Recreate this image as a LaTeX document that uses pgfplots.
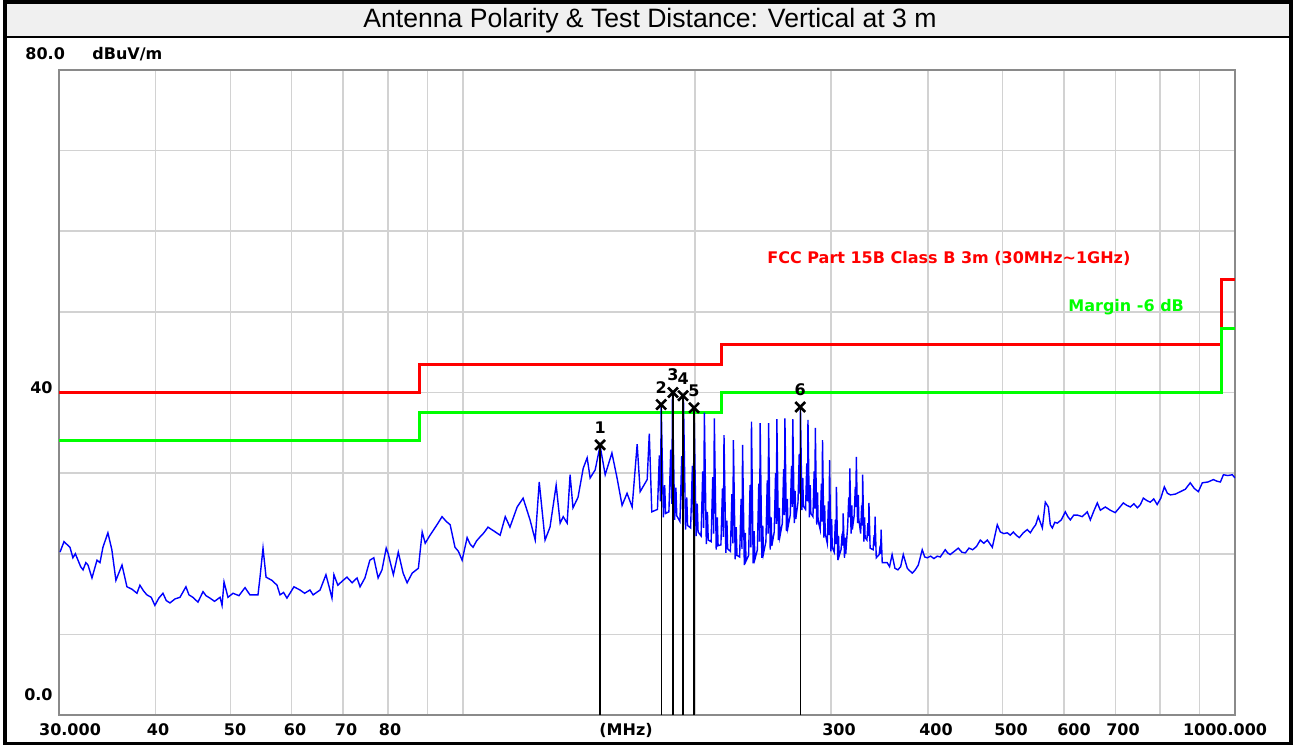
\documentclass[border=0pt]{standalone}
\usepackage{pgfplots}
\pgfplotsset{compat=1.18}
\usepackage{fontspec}
\setmainfont{Liberation Sans}
\newfontfamily\lblfont{DejaVu Sans}
\definecolor{gridgray}{HTML}{D2D2D2}
\definecolor{framegray}{HTML}{8A8A8A}
\definecolor{bandgray}{HTML}{F0F0F0}
\definecolor{limred}{HTML}{FF0000}
\definecolor{limgreen}{HTML}{00FF00}
\definecolor{trace}{HTML}{0000FF}
\newcommand{\lb}{\lblfont\bfseries\fontsize{8}{9}\selectfont}
\begin{document}
\begin{tikzpicture}
\path[use as bounding box] (0,0) rectangle (648pt,372.5pt);
\fill[bandgray] (2.5pt,354pt) rectangle (645.5pt,371pt);
\draw[black,line width=1pt] (2.5pt,354pt) -- (645.5pt,354pt);
\draw[black,line width=1.6pt] (2.5pt,0.8pt) rectangle (645.5pt,371.5pt);
\node[font=\fontsize{13.3}{15}\selectfont] at (325pt,362.3pt) {Antenna Polarity \& Test Distance: Vertical at 3 m};
\begin{axis}[
  at={(29.5pt,15pt)}, anchor=south west,
  width=588pt, height=322.5pt, scale only axis,
  xmode=log, xmin=30, xmax=1000, ymin=0, ymax=80,
  xtick={100,1000}, minor xtick={40,50,60,70,80,90,200,300,400,500,600,700,800,900},
  ytick={0,10,...,80},
  xticklabels={}, yticklabels={},
  xmajorgrids, xminorgrids, ymajorgrids,
  major grid style={draw=gridgray, line width=0.8pt},
  minor grid style={draw=gridgray, line width=0.8pt},
  major tick length=0pt, minor tick length=0pt,
  axis line style={draw=framegray, line width=1.1pt},
  clip=true,
]
\addplot[limred, line width=1.5pt, const plot] coordinates {(30,40)(88,43.5)(216,46)(960,54)(1000,54)};
\addplot[limgreen, line width=1.5pt, const plot] coordinates {(30,34)(88,37.5)(216,40)(960,48)(1000,48)};
\addplot[trace, line width=0.7pt] coordinates {
(30.09,20.2)(30.45,21.5)(31.0,20.8)(31.27,19.5)(31.5,20.0)(31.75,19.2)(32.0,18.4)(32.23,18.0)(32.5,18.9)(32.71,18.6)(33.1,17.0)(33.6,19.2)(33.9,18.9)(34.2,20.8)(34.71,22.6)(35.12,20.5)(35.55,16.7)(36.2,18.6)(36.74,15.9)(37.3,15.6)(37.85,15.1)(38.19,16.1)(38.6,15.4)(38.99,14.9)(39.5,14.6)(39.93,13.6)(40.4,14.5)(40.9,15.1)(41.3,14.2)(41.76,13.9)(42.4,14.4)(43.03,14.6)(43.8,15.9)(44.2,14.9)(44.71,14.6)(45.4,14.0)(46.09,15.3)(46.5,14.8)(47.05,14.5)(47.7,14.1)(48.49,14.6)(48.78,13.6)(49.07,16.5)(49.65,14.6)(50.4,15.1)(51.3,14.8)(52.24,15.8)(53.01,14.9)(54.3,14.9)(54.63,17.1)(55.12,20.7)(55.62,17.1)(56.6,16.7)(57.47,16.1)(57.99,14.9)(58.6,15.2)(59.2,14.5)(60.45,15.9)(61.56,15.5)(62.4,15.1)(63.4,15.5)(64.0,14.9)(65.34,15.5)(66.5,17.4)(67.3,15.5)(67.7,14.5)(68.1,17.4)(68.9,16.1)(69.98,16.7)(70.8,17.1)(71.9,16.4)(72.96,17.0)(73.62,15.9)(74.7,17.0)(75.8,19.2)(76.7,19.5)(77.7,17.0)(78.6,18.0)(79.6,20.7)(80.0,20.1)(81.3,17.4)(82.5,20.2)(83.7,17.6)(84.7,16.4)(86.0,17.6)(87.6,18.2)(88.6,22.7)(89.4,21.3)(90.7,22.3)(92.6,23.6)
(94.0,24.6)(95.2,24.0)(96.3,23.6)(97.7,20.8)(98.7,20.3)(99.8,19.2)(101.3,22.0)(102.2,21.2)(103.1,20.8)(104.2,21.6)(105.31,22.1)(106.5,22.6)(107.8,23.3)(109.8,22.8)(111.78,22.3)(113.5,24.6)(115.1,23.3)(117.6,25.8)(119.7,26.9)(122.2,24.2)(124.1,21.7)(125.6,28.9)(127.8,21.7)(129.7,23.3)(132.1,28.5)(133.68,23.8)(134.9,24.6)(136.5,23.8)(137.7,29.8)(138.9,25.7)(141.0,27.0)(143.2,30.6)(144.9,31.9)(146.2,29.4)(148.4,30.4)(150.6,33.4)(152.9,29.8)(156.0,32.5)(158.4,29.4)(160.8,26.0)(163.2,27.5)(165.7,25.8)(168.2,33.6)(169.71,27.7)(173.3,29.2)(174.4,34.9)(175.7,25.2)
(178.7,25.5)(179.7,32.2)(180.3,26.5)(180.7,38.5)(181.9,24.5)(182.6,28.5)(183.1,25.0)
(184.9,25.2)(185.9,32.9)(186.5,26.2)(186.9,40.0)(188.1,24.2)(188.8,28.2)(189.3,24.7)
(191.1,24.0)(192.1,32.1)(192.7,25.0)(193.1,39.6)(194.3,23.0)(195.0,27.0)(195.5,23.5)
(197.3,23.2)(198.3,30.9)(198.9,24.2)(199.3,38.1)(200.5,22.2)(201.2,26.2)(201.7,22.7)
(203.5,22.2)(204.5,30.2)(205.1,23.2)(205.5,37.5)(206.7,21.2)(207.4,25.2)(207.9,21.7)
(209.7,21.5)(210.7,29.5)(211.3,22.5)(211.7,36.8)(212.9,20.5)(213.6,24.5)(214.1,21.0)
(215.9,21.1)(216.9,28.1)(217.5,22.1)(217.9,34.7)(219.1,20.1)(219.8,24.1)(220.3,20.6)
(222.1,20.3)(223.1,27.4)(223.7,21.3)(224.1,34.1)(225.3,19.3)(226.0,23.3)(226.5,19.8)
(228.3,19.6)(229.3,26.8)(229.9,20.6)(230.3,33.5)(231.5,18.6)(232.2,22.6)(232.7,19.1)
(234.5,19.8)(235.5,28.5)(236.1,20.8)(236.5,36.4)(237.7,18.8)(238.4,22.8)(238.9,19.3)
(240.7,20.5)(241.7,28.7)(242.3,21.5)(242.7,36.2)(243.9,19.5)(244.6,23.5)(245.1,20.0)
(246.9,21.5)(247.9,29.1)(248.5,22.5)(248.9,36.2)(250.1,20.5)(250.8,24.5)(251.3,21.0)
(253.1,22.7)(254.1,30.0)(254.7,23.7)(255.1,36.7)(256.3,21.7)(257.0,25.7)(257.5,22.2)
(259.3,23.8)(260.3,30.5)(260.9,24.8)(261.3,36.8)(262.5,22.8)(263.2,26.8)(263.7,23.3)
(265.5,24.8)(266.5,30.9)(267.1,25.8)(267.5,36.7)(268.7,23.8)(269.4,27.8)(269.9,24.3)
(271.7,26.4)(272.7,32.4)(273.3,27.4)(273.7,38.2)(274.9,25.4)(275.6,29.4)(276.1,25.9)
(277.9,25.5)(278.9,31.2)(279.5,26.5)(279.9,36.6)(281.1,24.5)(281.8,28.5)(282.3,25.0)
(284.1,24.6)(285.1,30.2)(285.7,25.6)(286.1,35.6)(287.3,23.6)(288.0,27.6)(288.5,24.1)
(290.3,23.0)(291.3,28.7)(291.9,24.0)(292.3,34.1)(293.5,22.0)(294.2,26.0)(294.7,22.5)
(296.5,21.3)(297.5,26.5)(298.1,22.3)(298.5,31.6)(299.7,20.3)(300.4,24.3)(300.9,20.8)
(302.7,20.2)(303.7,24.2)(304.3,21.2)(304.7,28.3)(305.9,19.2)(306.6,22.2)(307.1,19.7)
(308.9,20.5)(309.9,22.5)(310.5,21.0)(310.9,25.0)(312.1,19.5)(312.8,22.0)(313.3,20.0)
(315.1,23.5)(316.1,27.0)(316.7,24.5)(317.1,30.6)(318.3,22.5)(319.0,26.0)(319.5,23.0)
(321.3,24.8)(322.3,28.3)(322.9,25.8)(323.3,32.0)(324.5,23.8)(325.2,27.3)(325.7,24.3)
(327.5,22.5)(328.5,26.0)(329.1,23.5)(329.5,29.8)(330.7,21.5)(331.4,24.5)(331.9,22.0)
(333.7,21.7)(334.7,23.8)(335.3,22.2)(335.7,26.3)(336.9,20.7)
(339.9,20.5)(340.9,22.3)(341.5,21.0)(341.9,24.6)(343.1,19.5)
(346.1,19.9)(347.1,21.0)(347.7,20.0)(348.1,23.0)(349.3,18.9)
(354.5,18.9)(357.0,18.4)(359.7,19.9)(362.8,18.2)(366.0,18.0)(369.0,18.4)(371.9,19.9)(376.4,18.2)(379.0,17.9)(382.1,17.6)(385.5,18.0)(389.0,18.6)(393.6,20.5)(396.5,19.6)(399.5,19.5)(403.5,19.7)(407.5,19.4)(411.5,19.7)(415.3,19.6)(421.5,20.5)(424.5,20.1)(427.7,19.9)(433.0,20.3)(438.2,20.7)(442.8,20.2)(447.4,20.1)(452.4,20.7)(457.4,20.5)(462.6,20.9)(467.9,21.7)(472.8,21.3)(477.8,21.7)(485.0,20.8)(492.2,23.6)(496.7,22.7)(502.0,22.5)(507.1,22.6)(511.6,22.3)(516.3,22.7)(520.8,22.3)(525.6,22.0)(532.0,22.6)(538.3,23.0)(543.2,22.6)(548.0,23.2)(552.0,23.6)(556.2,24.6)(563.0,23.2)(568.0,26.4)(573.2,25.8)(576.5,23.6)(580.0,23.2)(584.3,23.9)(588.7,23.8)(595.8,24.2)(602.9,25.2)(607.5,24.6)(612.0,24.2)(618.4,24.8)(624.9,24.8)(634.2,24.6)(643.7,25.2)(649.6,24.2)(656.4,25.3)(663.3,26.3)(669.3,25.4)(679.3,25.8)(689.4,25.4)(699.7,25.1)(708.2,25.7)(716.8,26.3)(724.4,26.0)(732.0,25.8)(739.7,26.2)(747.5,25.7)(754.2,26.1)(760.9,26.9)(768.8,26.6)(776.8,26.4)(784.9,26.8)(793.0,26.1)(801.5,26.9)(810.0,28.3)(817.4,27.5)(824.9,27.3)(837.2,27.4)(849.6,27.7)(862.3,28.0)(875.0,28.8)(885.7,28.1)(896.4,27.7)(907.2,28.8)(922.4,28.9)(937.6,29.2)(947.4,29.0)(957.3,28.9)(966.0,29.8)(979.0,29.7)(992.0,29.8)(1000,29.4)
};
\addplot[black, line width=0.6pt, ycomb, mark=x, mark size=3.5pt,
  mark options={line width=1.3pt},
  nodes near coords, point meta=explicit symbolic,
  every node near coord/.style={font=\lb, anchor=south, inner sep=0pt, yshift=5pt}]
  table[meta=lbl] {
f v lbl
150.6 33.5 1
180.7 38.5 2
187.2 40.0 3
192.9 39.6 4
199.3 38.1 5
273.5 38.2 6
};
\end{axis}
\node[font=\lb, anchor=west, inner sep=0pt] at (12.5pt,345.5pt) {80.0};
\node[font=\lb, anchor=west, inner sep=0pt] at (46pt,345.5pt) {dBuV/m};
\node[font=\lb, anchor=east, inner sep=0pt] at (26.5pt,178.5pt) {40};
\node[font=\lb, anchor=east, inner sep=0pt] at (26.5pt,25pt) {0.0};
\foreach \xx/\tt in {35/30.000,79/40,117.5/50,147.5/60,173/70,195/80,313/(MHz),419.5/300,468/400,505.5/500,537/600,561.5/700,612.5/1000.000}
  \node[font=\lb, inner sep=0pt] at (\xx pt,7.5pt) {\tt};
\node[font=\lb, text=limred, anchor=west, inner sep=0pt] at (383.5pt,243.5pt) {FCC Part 15B Class B 3m (30MHz\textasciitilde 1GHz)};
\node[font=\lb, text=limgreen, anchor=west, inner sep=0pt] at (534pt,219pt) {Margin -6 dB};
\end{tikzpicture}
\end{document}
